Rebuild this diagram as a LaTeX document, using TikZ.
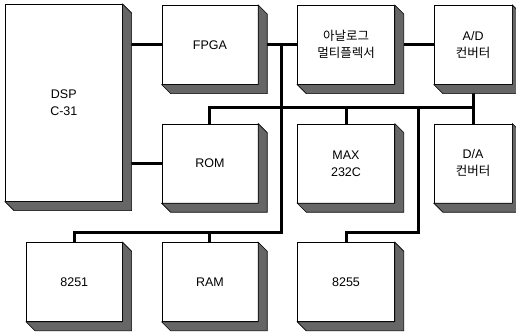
\documentclass[tikz,border=0pt]{standalone}
\usepackage{fontspec}
\setmainfont{Liberation Sans}
\newfontfamily\kr{Noto Sans CJK KR}
\usetikzlibrary{
    positioning,
    calc,
    backgrounds
}

\begin{document}
\begin{tikzpicture}[
    x=1pt, y=-1pt,
    node distance=39pt and 39pt,
    blk/.style={rectangle, draw, line width=0.6pt, fill=white, minimum width=96pt, minimum height=79pt, inner sep=0pt, align=center, font=\fontsize{12.5}{17}\selectfont},
    narrow/.style={minimum width=78pt},
    side/.style={draw, line width=0.6pt, fill=black!60},
    bus/.style={line width=3pt}
]
\useasboundingbox (0,0) rectangle (516,334);

% Processor
\node[blk, minimum width=117pt, minimum height=197pt, anchor=north west] (dsp) at (5,4) {DSP\\C-31};

% Top row
\node[blk, right=of dsp.north east, anchor=north west, yshift=-1pt] (fpga) {FPGA};
\node[blk, minimum width=97pt, right=of fpga] (mux) {{\kr 아날로그}\\{\kr 멀티플렉서}};
\node[blk, narrow, right=of mux] (ad) {A/D\\{\kr 컨버터}};

% Middle row
\node[blk, below=of fpga] (rom) {ROM};
\node[blk, minimum width=97pt, below=of mux] (maxc) {MAX\\232C};
\node[blk, narrow, below=of ad] (da) {D/A\\{\kr 컨버터}};

% Bottom row
\node[blk, below=of rom] (ram) {RAM};
\node[blk, minimum width=97pt, below=of maxc] (u8255) {8255};
\node[blk, left=of ram] (u8251) {8251};

% Bus bends
\coordinate (tapA) at (281,44);
\coordinate (busA) at (281,232);
\coordinate (busB) at (0,108);
\coordinate (tapB) at (418,108);
\coordinate (busC) at (418,232);

% 3D sides
\foreach \n in {dsp,fpga,mux,ad,rom,maxc,da,u8251,ram,u8255}
    \filldraw[side] (\n.north east) -- ++(9,9) -- ($(\n.south east)+(9,9)$)
        -- ($(\n.south west)+(9,9)$) -- (\n.south west) -- (\n.south east) -- cycle;

\begin{scope}[on background layer]
\draw[bus] (fpga.west) -- (fpga.west -| dsp.east);
\draw[bus] (rom.west) -- (rom.west -| dsp.east);
\draw[bus] (fpga.east) -- (mux.west);
\draw[bus] (mux.east) -- (ad.west);
\draw[bus] (tapA) -- (busA) -| (u8251.north);
\draw[bus] (ram.north) -- (ram.north |- busA);
\draw[bus] (rom.north) -- (rom.north |- busB) -- (ad.south |- busB);
\draw[bus] (ad.south) -- (da.north);
\draw[bus] (maxc.north) -- (maxc.north |- busB);
\draw[bus] (tapB) -- (busC) -| (u8255.north);
\end{scope}
\end{tikzpicture}
\end{document}
